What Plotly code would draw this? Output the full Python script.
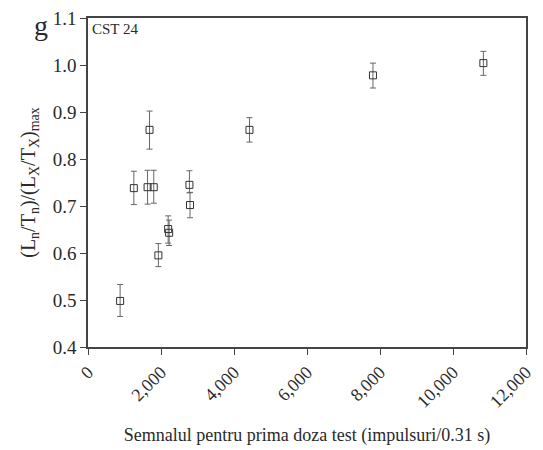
import plotly.graph_objects as go

x_signal = [880, 1256, 1686, 1632, 1801, 1928, 2196, 2223, 2779, 2795, 4424, 7807, 10832]
y_ratio = [0.498, 0.738, 0.862, 0.740, 0.740, 0.595, 0.651, 0.643, 0.745, 0.702, 0.862, 0.978, 1.004]
err_up = [0.035, 0.036, 0.040, 0.036, 0.036, 0.025, 0.028, 0.027, 0.030, 0.027, 0.026, 0.026, 0.025]
err_down = [0.033, 0.035, 0.041, 0.036, 0.034, 0.024, 0.030, 0.027, 0.017, 0.027, 0.026, 0.027, 0.026]

x_ticks = [0, 2000, 4000, 6000, 8000, 10000, 12000]
x_ticklabels = ["0", "2,000", "4,000", "6,000", "8,000", "10,000", "12,000"]
y_ticks = [0.4, 0.5, 0.6, 0.7, 0.8, 0.9, 1.0, 1.1]

FONT = "Times New Roman, Liberation Serif, serif"
TXT = "#2a2a2a"

fig = go.Figure()
fig.add_trace(go.Scatter(
    x=x_signal, y=y_ratio, mode="markers",
    marker=dict(symbol="square-open", size=7, color="#333333", line=dict(width=1)),
    error_y=dict(type="data", symmetric=False, array=err_up, arrayminus=err_down,
                 color="#666666", thickness=1, width=3),
    showlegend=False,
))

fig.update_layout(
    width=543, height=450,
    margin=dict(l=88, r=8, t=17, b=103),
    paper_bgcolor="white", plot_bgcolor="white",
    font=dict(family=FONT, size=18, color=TXT),
    xaxis=dict(range=[0, 12000], tickvals=x_ticks, ticktext=x_ticklabels, tickangle=-45,
               showline=True, linecolor="#444444", linewidth=1.5, mirror=True,
               ticks="outside", ticklen=6, tickcolor="#444444", showgrid=False, zeroline=False,
               tickfont=dict(family=FONT, size=18, color=TXT),
               title=dict(text="Semnalul pentru prima doza test (impulsuri/0.31 s)",
                          font=dict(family=FONT, size=18, color=TXT), standoff=18)),
    yaxis=dict(range=[0.4, 1.1], tickvals=y_ticks, tickformat=".1f",
               showline=True, linecolor="#444444", linewidth=1.5, mirror=True,
               ticks="outside", ticklen=6, tickcolor="#444444", showgrid=False, zeroline=False,
               tickfont=dict(family=FONT, size=19, color=TXT),
               title=dict(text="(L<sub>n</sub>/T<sub>n</sub>)/(L<sub>X</sub>/T<sub>X</sub>)<sub>max</sub>",
                          font=dict(family=FONT, size=20, color=TXT), standoff=12)),
    annotations=[
        dict(text="CST 24", xref="paper", yref="paper", x=0.005, y=0.998,
             xanchor="left", yanchor="top", showarrow=False,
             font=dict(family=FONT, size=15, color=TXT)),
        dict(text="g", xref="paper", yref="paper", x=-0.107, y=1.03,
             xanchor="center", yanchor="top", showarrow=False,
             font=dict(family=FONT, size=28, color=TXT)),
    ],
)

fig.write_html("out.html")
